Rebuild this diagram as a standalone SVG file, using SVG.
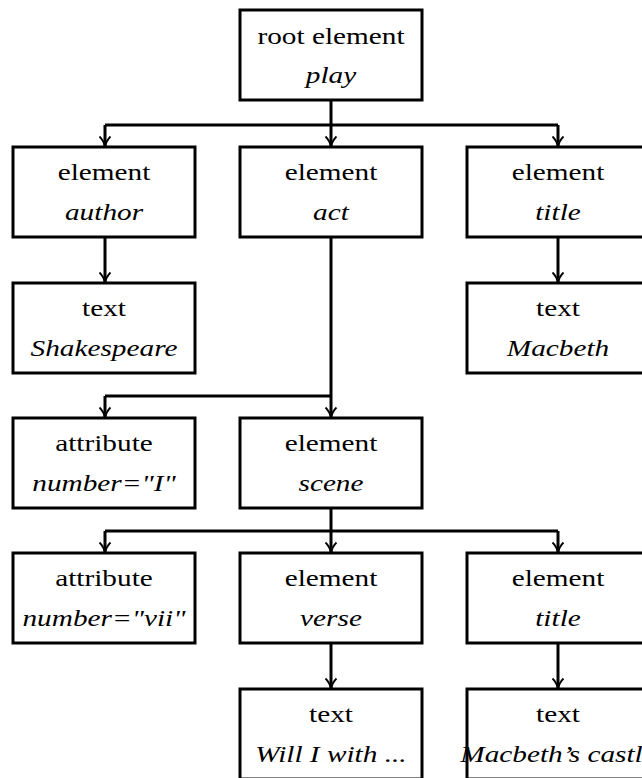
<svg xmlns="http://www.w3.org/2000/svg" width="642" height="778" viewBox="0 0 642 778">
<style>
.box{fill:#fff;stroke:#000;stroke-width:3}
.t{font-family:"Liberation Serif",serif;font-size:24px;text-anchor:middle;fill:#000}
.i{font-family:"Liberation Serif",serif;font-size:24px;font-style:italic;text-anchor:middle;fill:#000}
.ln{fill:none;stroke:#000;stroke-width:3}
</style>
<defs>
<marker id="ahd" markerWidth="14" markerHeight="14" refX="7" refY="12" markerUnits="userSpaceOnUse" viewBox="0 0 14 14" orient="0">
<path d="M1.5,1.5 Q6,6 7,12 Q8,6 12.5,1.5" fill="none" stroke="#000" stroke-width="1.8"/>
</marker>
</defs>
<g id="connectors">
<path class="ln" d="M331,100 V125 M105,125 H558"/>
<path class="ln" d="M105,125 V147" marker-end="url(#ahd)"/>
<path class="ln" d="M331,125 V147" marker-end="url(#ahd)"/>
<path class="ln" d="M558,125 V147" marker-end="url(#ahd)"/>
<path class="ln" d="M105,237 V283" marker-end="url(#ahd)"/>
<path class="ln" d="M558,237 V283" marker-end="url(#ahd)"/>
<path class="ln" d="M331,237 V396 M105,396 H331"/>
<path class="ln" d="M105,396 V418" marker-end="url(#ahd)"/>
<path class="ln" d="M331,396 V418" marker-end="url(#ahd)"/>
<path class="ln" d="M331,508 V531 M105,531 H558"/>
<path class="ln" d="M105,531 V553" marker-end="url(#ahd)"/>
<path class="ln" d="M331,531 V553" marker-end="url(#ahd)"/>
<path class="ln" d="M558,531 V553" marker-end="url(#ahd)"/>
<path class="ln" d="M331,643 V689" marker-end="url(#ahd)"/>
<path class="ln" d="M558,643 V689" marker-end="url(#ahd)"/>
</g>
<g id="root">
<rect class="box" x="240" y="10" width="182" height="90"/>
<text class="t" transform="translate(331,44) scale(1.22,1)">root element</text>
<text class="i" transform="translate(331,83) scale(1.22,1)">play</text>
</g>
<g id="author">
<rect class="box" x="13" y="147" width="182" height="90"/>
<text class="t" transform="translate(104,180) scale(1.22,1)">element</text>
<text class="i" transform="translate(104,220) scale(1.22,1)">author</text>
</g>
<g id="act">
<rect class="box" x="240" y="147" width="182" height="90"/>
<text class="t" transform="translate(331,180) scale(1.22,1)">element</text>
<text class="i" transform="translate(331,220) scale(1.22,1)">act</text>
</g>
<g id="title1">
<rect class="box" x="467" y="147" width="182" height="90"/>
<text class="t" transform="translate(558,180) scale(1.22,1)">element</text>
<text class="i" transform="translate(558,220) scale(1.22,1)">title</text>
</g>
<g id="shakespeare">
<rect class="box" x="13" y="283" width="182" height="90"/>
<text class="t" transform="translate(104,316) scale(1.22,1)">text</text>
<text class="i" transform="translate(104,356) scale(1.22,1)">Shakespeare</text>
</g>
<g id="macbeth">
<rect class="box" x="467" y="283" width="182" height="90"/>
<text class="t" transform="translate(558,316) scale(1.22,1)">text</text>
<text class="i" transform="translate(558,356) scale(1.22,1)">Macbeth</text>
</g>
<g id="attr1">
<rect class="box" x="13" y="418" width="182" height="90"/>
<text class="t" transform="translate(104,451) scale(1.22,1)">attribute</text>
<text class="i" transform="translate(104,491) scale(1.22,1)">number="I"</text>
</g>
<g id="scene">
<rect class="box" x="240" y="418" width="182" height="90"/>
<text class="t" transform="translate(331,451) scale(1.22,1)">element</text>
<text class="i" transform="translate(331,491) scale(1.22,1)">scene</text>
</g>
<g id="attr2">
<rect class="box" x="13" y="553" width="182" height="90"/>
<text class="t" transform="translate(104,586) scale(1.22,1)">attribute</text>
<text class="i" transform="translate(104,626) scale(1.22,1)">number="vii"</text>
</g>
<g id="verse">
<rect class="box" x="240" y="553" width="182" height="90"/>
<text class="t" transform="translate(331,586) scale(1.22,1)">element</text>
<text class="i" transform="translate(331,626) scale(1.22,1)">verse</text>
</g>
<g id="title2">
<rect class="box" x="467" y="553" width="182" height="90"/>
<text class="t" transform="translate(558,586) scale(1.22,1)">element</text>
<text class="i" transform="translate(558,626) scale(1.22,1)">title</text>
</g>
<g id="versetext">
<rect class="box" x="240" y="689" width="182" height="90"/>
<text class="t" transform="translate(331,722) scale(1.22,1)">text</text>
<text class="i" transform="translate(331,762) scale(1.22,1)">Will I with ...</text>
</g>
<g id="castle">
<rect class="box" x="467" y="689" width="182" height="90"/>
<text class="t" transform="translate(558,722) scale(1.22,1)">text</text>
<text class="i" transform="translate(558,762) scale(1.22,1)">Macbeth’s castle</text>
</g>
</svg>
